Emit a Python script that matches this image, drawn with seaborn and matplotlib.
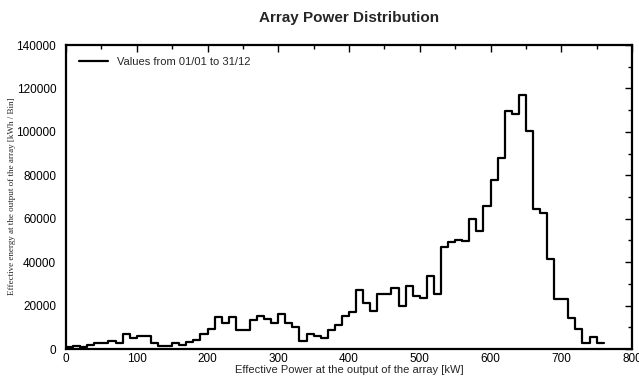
import numpy as np
import pandas as pd
import seaborn as sns
import matplotlib
matplotlib.use("Agg")
import matplotlib.pyplot as plt
from matplotlib.lines import Line2D
from matplotlib.ticker import MultipleLocator

# Histogram bins of effective array power (kW), 10 kW wide
bin_width = 10
bin_starts = list(range(0, 760, bin_width))
energy_per_bin = [
    800, 1200, 800, 1700, 2800, 2800, 3700, 2800, 6900, 5200,
    6000, 6000, 2800, 1400, 1400, 2800, 1800, 3400, 4300, 7100,
    9200, 14600, 12200, 14600, 8800, 8800, 13200, 15100, 14000, 11800,
    16300, 12200, 10200, 3700, 6900, 6200, 5200, 8800, 10900, 15100,
    17100, 27400, 21300, 17700, 25500, 25500, 28100, 20000, 28900, 24500,
    23600, 33400, 25500, 47100, 49300, 50300, 49700, 59900, 54400, 65800,
    78000, 87800, 109600, 108400, 117000, 100400, 64300, 62800, 41300, 23200,
    22900, 14400, 9400, 2600, 5400, 2600,
]
series_label = "Values from 01/01 to 31/12"
title = "Array Power Distribution"
x_label = "Effective Power at the output of the array [kW]"
y_label = "Effective energy at the output of the array [kWh / Bin]"

df = pd.DataFrame({
    "power": np.array(bin_starts) + bin_width / 2,
    "energy": energy_per_bin,
})
edges = list(range(0, 760 + bin_width, bin_width))

sns.set_style("white")
plt.rcParams["font.family"] = ["Liberation Sans", "DejaVu Sans"]

fig = plt.figure(figsize=(6.39, 3.77), dpi=100)
ax = fig.add_axes([66 / 639, 1 - 349 / 377, (632 - 66) / 639, (349 - 45) / 377])

sns.histplot(data=df, x="power", weights="energy", bins=edges,
             element="step", fill=False, color="black", linewidth=1.6, ax=ax)

ax.set_xlim(0, 800)
ax.set_ylim(0, 140000)
ax.xaxis.set_major_locator(MultipleLocator(100))
ax.xaxis.set_minor_locator(MultipleLocator(50))
ax.yaxis.set_major_locator(MultipleLocator(20000))
ax.yaxis.set_minor_locator(MultipleLocator(10000))
ax.tick_params(axis="both", which="both", direction="in", top=True, right=True,
               colors="black", labelsize=8.5, width=1.0)
ax.tick_params(axis="both", which="major", length=5, pad=3)
ax.tick_params(axis="both", which="minor", length=3)
# left major ticks cross the spine; the right ones stay inside
ax.yaxis.set_tick_params(which="major", direction="inout", length=8)
for t in ax.yaxis.get_major_ticks():
    t.tick2line.set_markersize(5)
    t.tick2line.set_marker(matplotlib.lines.TICKLEFT)
ax.set_xlabel("")
ax.set_ylabel("")

for s in ax.spines.values():
    s.set_visible(True)
    s.set_color("black")
    s.set_linewidth(1.6)

handle = Line2D([], [], color="black", linewidth=1.6)
ax.legend([handle], [series_label], loc="upper left", frameon=False,
          fontsize=8, handlelength=2.6, borderaxespad=0.0,
          bbox_to_anchor=(0.015, 0.975))

fig.text(349 / 639, 1 - 18 / 377, title, ha="center", va="center",
         fontsize=11, fontweight="bold")
fig.text(349 / 639, 1 - 370 / 377, x_label, ha="center", va="center", fontsize=8)
fig.text(12 / 639, 1 - 196 / 377, y_label, ha="center", va="center", rotation=90,
         fontsize=6.5, family=["Liberation Serif", "DejaVu Serif"])

fig.savefig("out.png", dpi=100, facecolor="white")
